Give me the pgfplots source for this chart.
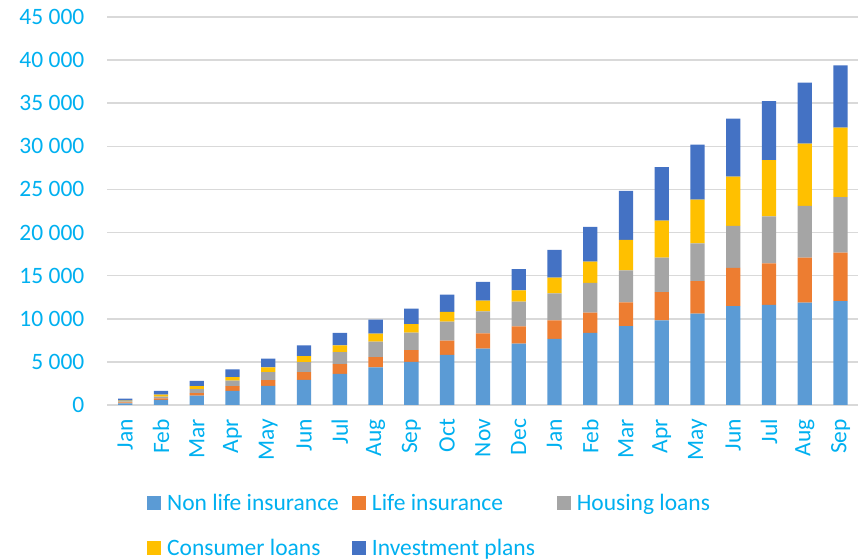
\documentclass[border=0pt]{standalone}
\usepackage{fontspec}
\setmainfont{Carlito}
\usepackage{pgfplots}
\usepackage{pgfplotstable}
\pgfplotsset{compat=1.18}
\definecolor{nonlife}{HTML}{5B9BD5}
\definecolor{life}{HTML}{ED7D31}
\definecolor{housing}{HTML}{A5A5A5}
\definecolor{consumer}{HTML}{FFC000}
\definecolor{invest}{HTML}{4472C4}
\definecolor{tickblue}{HTML}{00B0F0}
\definecolor{gridgray}{HTML}{D9D9D9}

\pgfplotsset{sq legend/.style={legend image code/.code={\fill[##1, draw=none] (0pt,-3pt) rectangle (7pt,4pt);}}}

% x = month index, values per product
\pgfplotstableread{
x  NL    L     H     C     I
0  200   90    120   110   230
1  580   190   210   220   450
2  1100  270   460   350   620
3  1650  530   660   390   890
4  2230  650   930   540   1040
5  2920  880   1160  700   1240
6  3620  1110  1390  780   1470
7  4350  1200  1790  930   1620
8  5010  1350  2020  1000  1790
9  5800  1660  2200  1130  2010
10 6530  1780  2550  1240  2170
11 7110  2010  2860  1310  2480
12 7660  2160  3130  1820  3210
13 8350  2360  3450  2470  4030
14 9160  2740  3710  3530  5680
15 9810  3290  3980  4290  6230
16 10590 3790  4360  5070  6380
17 11480 4410  4870  5720  6730
18 11600 4830  5450  6530  6840
19 11870 5220  6000  7230  7080
20 12060 5600  6460  8040  7230
}\sales

\begin{document}
\begin{tikzpicture}
\begin{axis}[
    at={(53.7pt,77.5pt)}, anchor=south west,
    scale only axis, width=375.5pt, height=194pt,
    ybar stacked, bar width=7.15pt,
    xmin=-0.5, xmax=20.5, ymin=0, ymax=45000,
    ytick={0,5000,...,45000},
    xtick={0,...,20},
    xticklabels={Jan,Feb,Mar,Apr,May,Jun,Jul,Aug,Sep,Oct,Nov,Dec,Jan,Feb,Mar,Apr,May,Jun,Jul,Aug,Sep},
    scaled y ticks=false,
    /pgf/number format/assume math mode=true,
    /pgf/number format/1000 sep={\ },
    tick label style={font=\fontsize{11.75}{14}\selectfont, text=tickblue},
    x tick label style={rotate=90, anchor=east},
    xticklabel shift=3.5pt,
    yticklabel shift=8pt,
    major tick length=0pt,
    axis line style={draw=none},
    ymajorgrids,
    grid style={draw=gridgray, line width=0.75pt},
    legend columns=3,
    legend cell align=left,
    legend style={at={(0.0524,-0.218)}, anchor=north west, draw=none, fill=none,
        inner sep=0pt, font=\fontsize{11.75}{14}\selectfont, text=tickblue,
        nodes={inner xsep=0pt},
        row sep=9pt, column sep=0pt,
        /tikz/every odd column/.append style={column sep=3pt}},
]
\addplot[fill=nonlife, draw=none, sq legend] table[x=x, y=NL] {\sales};
\addplot[fill=life, draw=none, sq legend] table[x=x, y=L] {\sales};
\addplot[fill=housing, draw=none, sq legend] table[x=x, y=H] {\sales};
\addplot[fill=consumer, draw=none, sq legend] table[x=x, y=C] {\sales};
\addplot[fill=invest, draw=none, sq legend] table[x=x, y=I] {\sales};
\legend{\makebox[92.4pt][l]{Non life insurance},\makebox[92.4pt][l]{Life insurance},\makebox[92.4pt][l]{Housing loans},\makebox[92.4pt][l]{Consumer loans},\makebox[92.4pt][l]{Investment plans}}
\end{axis}
\pgfresetboundingbox
\useasboundingbox (0,0) rectangle (431pt,280pt);
\end{tikzpicture}
\end{document}
